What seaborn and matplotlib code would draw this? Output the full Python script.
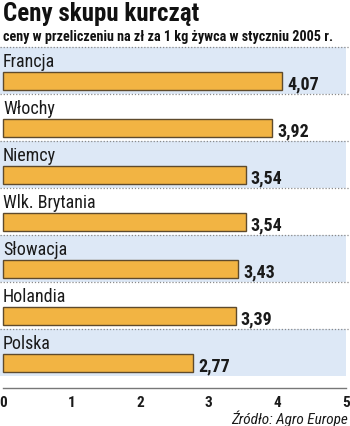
import matplotlib
matplotlib.use("Agg")
import matplotlib.pyplot as plt
import seaborn as sns
import pandas as pd

countries = ["Francja", "Włochy", "Niemcy", "Wlk. Brytania", "Słowacja", "Holandia", "Polska"]
prices = [4.07, 3.92, 3.54, 3.54, 3.43, 3.39, 2.77]
xticks = [0, 1, 2, 3, 4, 5]
title = "Ceny skupu kurcząt"
subtitle = "ceny w przeliczeniu na zł za 1 kg żywca w styczniu 2005 r."
source = "Źródło: Agro Europe"

sns.set_style("white")
plt.rcParams["font.family"] = ["Roboto Condensed", "DejaVu Sans"]

BAR = "#f2b443"
EDGE = "#5e4a2c"
BAND = "#dde8f6"
DOT = "#8a8a8a"

W, H, DPI = 350, 427, 100
fig = plt.figure(figsize=(W / DPI, H / DPI), dpi=DPI)

# plot area: bands from y=48 px down to the axis line at y=389 px
top_px, bot_px = 48, 389
left_px, right_px = 0, 346
ax = fig.add_axes([left_px / W, 1 - bot_px / H, (right_px - left_px) / W, (bot_px - top_px) / H])

px_per_unit = 343 / 5
x0 = -3 / px_per_unit
band_h = 47
n = len(countries)

df = pd.DataFrame({"country": countries, "price": prices})
sns.barplot(data=df, x="price", y="country", orient="h", color=BAR,
            edgecolor=EDGE, linewidth=1.0, width=0.385, saturation=1, ax=ax)

# move bars into the lower part of each row
for p in ax.patches:
    p.set_y(p.get_y() + 0.22)

ax.set_xlim(x0, 5)
ax.set_ylim(n - 0.5 + (bot_px - top_px - n * band_h) / band_h, -0.5)

for i in range(n):
    if i % 2 == 0:
        ax.axhspan(i - 0.5, i + 0.5, color=BAND, zorder=0, lw=0)
    ax.axhline(i - 0.5, xmin=0, xmax=W / (right_px - left_px), color=DOT,
               lw=0.9, ls=(0, (1, 1.5)), clip_on=False, zorder=1)

for i, (c, v) in enumerate(zip(countries, prices)):
    ax.text(0, i - 0.5 + 19 / band_h, c, fontsize=13, color="#1a1a1a",
            ha="left", va="baseline")
    ax.text(v + 5 / px_per_unit, i + 0.22 + 0.385 / 2 - 1.5 / band_h,
            f"{v:.2f}".replace(".", ","), fontsize=13, fontweight="bold",
            color="#1a1a1a", ha="left", va="baseline")

ax.set_ylabel("")
ax.set_xlabel("")
ax.set_yticks([])
ax.set_xticks(xticks)
ax.set_xticklabels([str(t) for t in xticks], fontsize=11, fontweight="bold", color="#1a1a1a")
ax.tick_params(axis="x", direction="inout", length=8, width=1, color="#555555", pad=1)
for s in ["top", "left", "right"]:
    ax.spines[s].set_visible(False)
ax.spines["bottom"].set_color("#777777")
ax.spines["bottom"].set_linewidth(1)
ax.spines["bottom"].set_bounds(0, 5)

fig.text(3 / W, 1 - 21 / H, title, fontsize=18, fontweight="bold", color="#111111",
         ha="left", va="baseline")
fig.text(3 / W, 1 - 41 / H, subtitle, fontsize=10.2, fontweight="bold", color="#111111",
         ha="left", va="baseline")
fig.text(348 / W, 1 - 424 / H, source, fontsize=11, style="italic", color="#1a1a1a",
         ha="right", va="baseline")

fig.savefig("out.png", dpi=DPI)
